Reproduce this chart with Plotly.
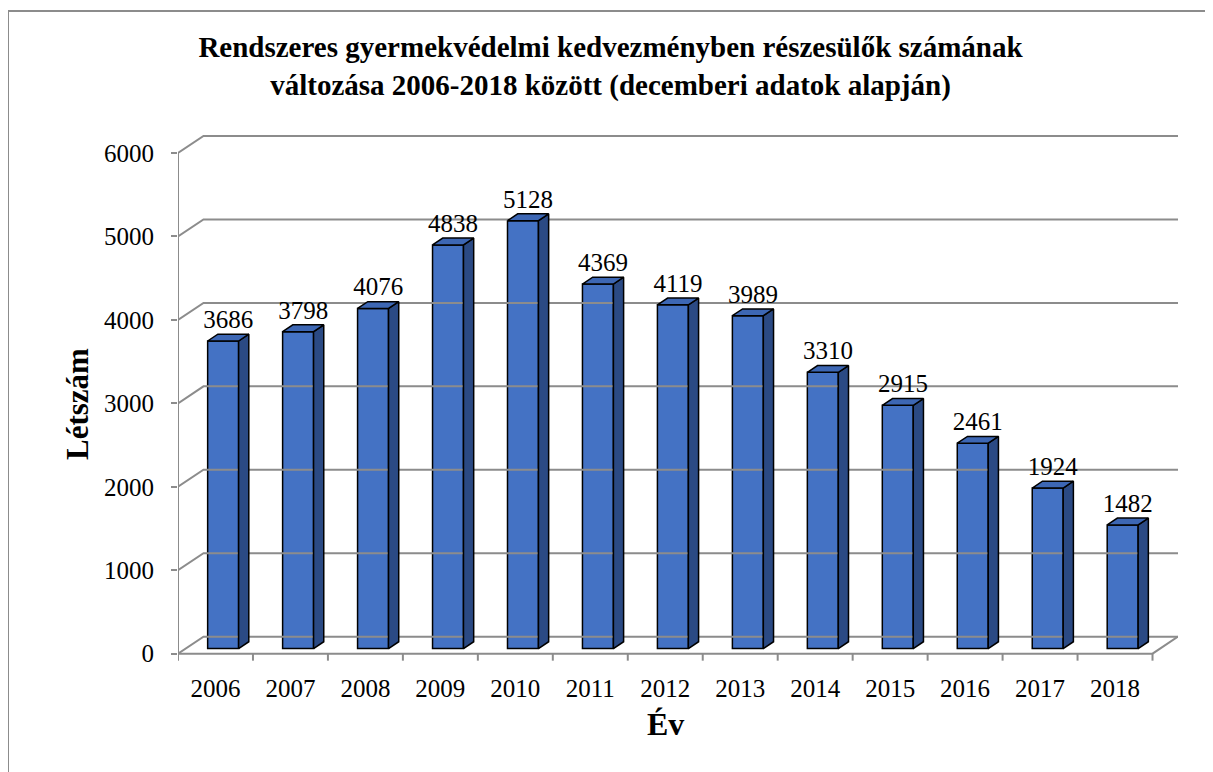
import plotly.graph_objects as go

years = ["2006", "2007", "2008", "2009", "2010", "2011", "2012",
         "2013", "2014", "2015", "2016", "2017", "2018"]
counts = [3686, 3798, 4076, 4838, 5128, 4369, 4119, 3989, 3310, 2915, 2461, 1924, 1482]
grid_values = [0, 1000, 2000, 3000, 4000, 5000, 6000]

# pseudo 3D geometry, in axis units
depth_x = 0.34      # wall depth along x (category units)
depth_y = 204       # wall depth along y (value units)
bar_w = 0.413
front, back = 0.3, 0.7   # bar position inside the depth
n = len(years)

serif = "Liberation Serif, Times New Roman, serif"
front_col = "#4472C4"
top_col = "#3D67B4"
side_col = "#2B4A84"
grid_col = "#8C8C8C"

fig = go.Figure()

# back wall gridlines + left wall diagonals
gx, gy = [], []
for v in grid_values:
    gx += [-0.5, -0.5 + depth_x, n - 0.5 + depth_x, None]
    gy += [v, v + depth_y, v + depth_y, None]
# floor front edge and right edge, front axis line
gx += [-0.5, n - 0.5, n - 0.5 + depth_x, None, -0.5, -0.5, None]
gy += [0, 0, depth_y, None, 0, grid_values[-1], None]
# category boundary ticks
for k in range(n + 1):
    gx += [k - 0.5, k - 0.5, None]
    gy += [0, -84, None]
fig.add_trace(go.Scatter(x=gx, y=gy, mode="lines", line=dict(color=grid_col, width=2),
                         hoverinfo="skip", showlegend=False))

xs = [i + front * depth_x for i in range(n)]
base = front * depth_y
ddx = (back - front) * depth_x
ddy = (back - front) * depth_y

# front faces
fig.add_trace(go.Bar(x=xs, y=counts, base=base, width=bar_w, marker=dict(color=front_col,
                     line=dict(color="black", width=1.5)), showlegend=False, hoverinfo="skip"))

# top and side faces
tx, ty, sx, sy = [], [], [], []
for x, v in zip(xs, counts):
    x0, x1 = x - bar_w / 2, x + bar_w / 2
    top = v + base
    tx += [x0, x1, x1 + ddx, x0 + ddx, x0, None]
    ty += [top, top, top + ddy, top + ddy, top, None]
    sx += [x1, x1, x1 + ddx, x1 + ddx, x1, None]
    sy += [base, top, top + ddy, base + ddy, base, None]
fig.add_trace(go.Scatter(x=sx, y=sy, mode="lines", fill="toself", fillcolor=side_col,
                         line=dict(color="black", width=1.5), hoverinfo="skip", showlegend=False))
fig.add_trace(go.Scatter(x=tx, y=ty, mode="lines", fill="toself", fillcolor=top_col,
                         line=dict(color="black", width=1.5), hoverinfo="skip", showlegend=False))

# data labels
fig.add_trace(go.Scatter(x=[x + ddx / 2 for x in xs], y=[v + base + ddy for v in counts],
                         mode="text", text=[str(v) for v in counts], textposition="top center",
                         textfont=dict(family=serif, size=25, color="black"),
                         hoverinfo="skip", showlegend=False, cliponaxis=False))

# page body has an 8px margin, so the figure is drawn 8px in from the window corner
off = 8
W, H = 1213 - off, 772 - off
ml, mr, mt, mb = 178 - off, 35, 128 - off, 110
pw, ph = W - ml - mr, H - mt - mb


def px(x):
    return (x - off - ml) / pw


def py(y):
    return (H - mb - (y - off)) / ph


fig.update_layout(
    width=W, height=H,
    margin=dict(l=ml, r=mr, t=mt, b=mb),
    plot_bgcolor="white", paper_bgcolor="white",
    title=dict(text="<b>Rendszeres gyermekvédelmi kedvezményben részesülők számának<br>"
                    "változása 2006-2018 között (decemberi adatok alapján)</b>",
               x=0.5, xanchor="center", y=1 - 49 / H, yanchor="middle",
               font=dict(family=serif, size=29, color="black")),
    xaxis=dict(range=[-0.5, n - 0.5 + depth_x], tickvals=list(range(n)), ticktext=years,
               showgrid=False, zeroline=False, showline=False, ticks="",
               ticklabelstandoff=9,
               tickfont=dict(family=serif, size=25, color="black")),
    yaxis=dict(range=[-100, 6300], tickvals=grid_values, showgrid=False, zeroline=False,
               showline=False, ticks="outside", ticklen=6, tickwidth=2, tickcolor=grid_col,
               ticklabelstandoff=12,
               tickfont=dict(family=serif, size=25, color="black")),
    annotations=[
        dict(text="<b>Létszám</b>", xref="paper", yref="paper", x=px(78), y=py(404),
             xanchor="center", yanchor="middle", showarrow=False, textangle=-90,
             font=dict(family=serif, size=31, color="black")),
        dict(text="<b>Év</b>", xref="paper", yref="paper", x=px(665), y=py(724),
             xanchor="center", yanchor="middle", showarrow=False,
             font=dict(family=serif, size=32, color="black")),
    ],
    shapes=[
        dict(type="line", xref="paper", yref="paper", x0=px(8), x1=px(1213),
             y0=py(11), y1=py(11), line=dict(color="#8C8C8C", width=2)),
        dict(type="line", xref="paper", yref="paper", x0=px(8), x1=px(8),
             y0=py(11), y1=py(772), line=dict(color="#8C8C8C", width=2)),
    ],
)

fig.write_html("out.html")
